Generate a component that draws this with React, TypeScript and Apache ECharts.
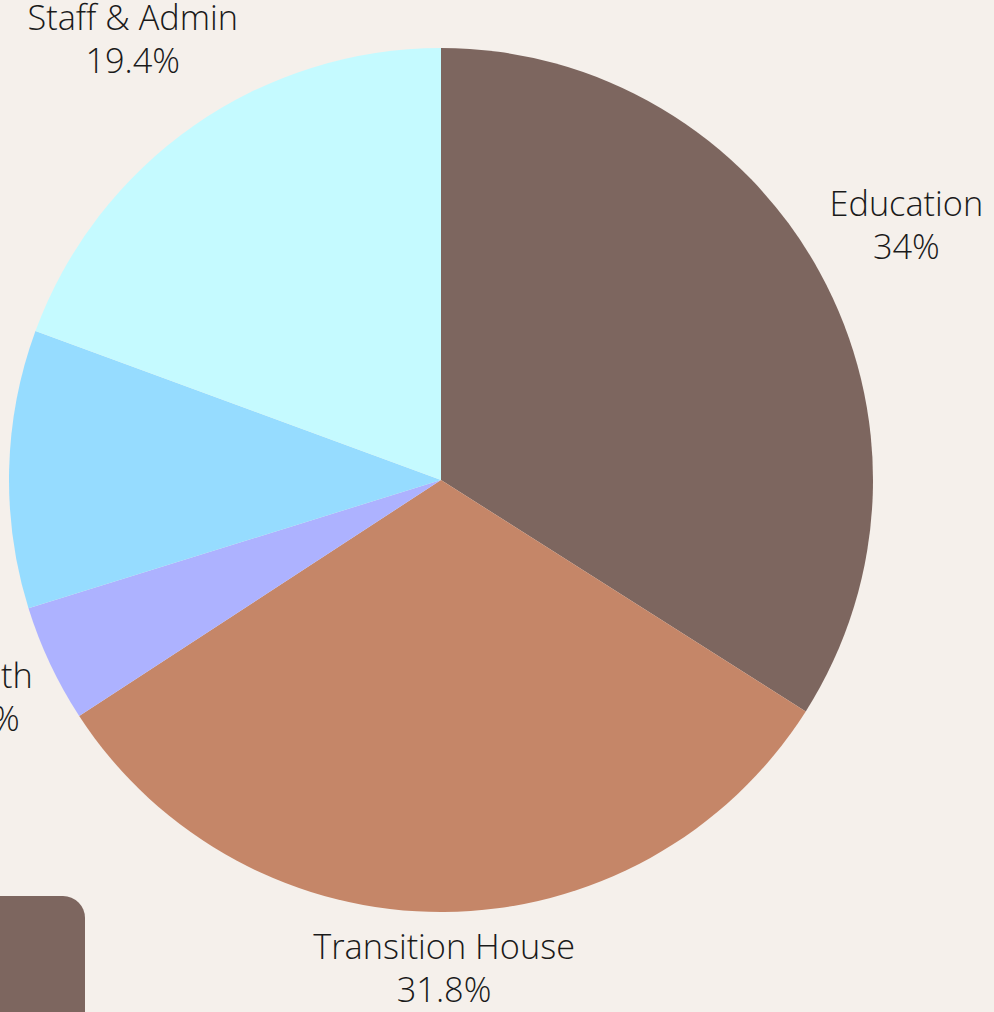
import React, { useEffect, useRef } from 'react';
import * as echarts from 'echarts';

const categories = ['Education', 'Transition House', 'Health', 'Outreach', 'Staff & Admin'];
const values = [34, 31.8, 4.4, 10.4, 19.4];
const colors = ['#7d665f', '#c58668', '#adb2ff', '#96dcff', '#c5faff'];

export default function App() {
  const ref = useRef<HTMLDivElement>(null);
  useEffect(() => {
    const chart = echarts.init(ref.current!, null, { renderer: 'svg' });
    const cx = 441, cy = 480, r = 432, gap = 11;
    const total = values.reduce((a, b) => a + b, 0);
    const mids: number[] = [];
    let acc = 0;
    values.forEach((v) => {
      mids.push(((acc + v / 2) / total) * Math.PI * 2);
      acc += v;
    });
    chart.setOption({
      animation: false,
      backgroundColor: '#f5f0eb',
      color: colors,
      graphic: [
        {
          type: 'rect',
          shape: { x: -30, y: 896, width: 115, height: 200, r: 22 },
          style: { fill: '#7d665f' },
        },
      ],
      series: [
        {
          type: 'pie',
          center: [cx, cy],
          radius: r,
          startAngle: 90,
          clockwise: true,
          avoidLabelOverlap: false,
          emphasis: { disabled: true },
          label: {
            show: true,
            position: 'outside',
            formatter: (p: any) => `${p.name}\n${p.value}%`,
            fontFamily: 'Open Sans',
            fontWeight: 300,
            fontSize: 34.3,
            lineHeight: 43,
            color: '#1a1a1a',
          },
          labelLine: { show: false },
          labelLayout: (params: any) => {
            const a = mids[params.dataIndex];
            const vx = Math.sin(a), vy = -Math.cos(a);
            const w = params.labelRect.width, h = params.labelRect.height;
            const d = r + gap + (Math.abs(vx) * w) / 2 + (Math.abs(vy) * h) / 2;
            return { x: cx + d * vx, y: cy + d * vy, align: 'center', verticalAlign: 'middle' };
          },
          data: categories.map((name, i) => ({ name, value: values[i] })),
        },
      ],
    });
    return () => chart.dispose();
  }, []);
  return <div ref={ref} style={{ position: 'fixed', left: 0, top: 0, width: 994, height: 1012 }} />;
}
